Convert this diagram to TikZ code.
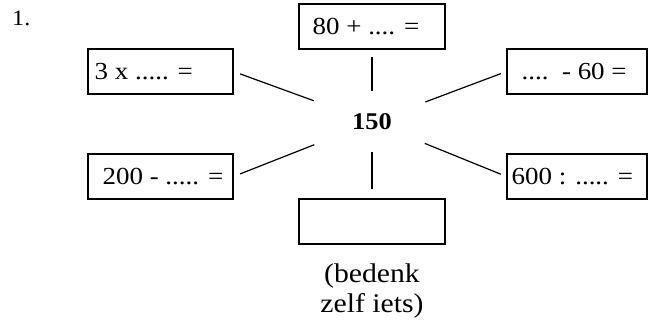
\documentclass[tikz,border=0pt]{standalone}
\usepackage{fontspec}
\setmainfont{Liberation Serif}[FakeStretch=1.1]
\begin{document}
\begin{tikzpicture}[x=1pt,y=-1pt,
  box/.style={draw,line width=1.1pt,minimum height=45pt,inner sep=0pt},
  sum/.style={anchor=west,inner sep=0pt,font=\fontsize{24.5}{28}\selectfont},
  spoke/.style={line width=1.2pt}]
\useasboundingbox (0,0) rectangle (648,320);

% exercise number
\node[anchor=base west,inner sep=0pt,font=\fontsize{22}{26}\selectfont] (nr) at (12,26) {1.};

% central number
\node[inner sep=0pt,font=\fontsize{24}{28}\selectfont\bfseries] (n150) at (372,122) {150};

% boxes around the centre
\node[box,minimum width=146pt] (b80) at (372,26.5) {};
\node[box,minimum width=145pt] (b3x) at (160.5,71.5) {};
\node[box,minimum width=140pt] (bm60) at (577,71.5) {};
\node[box,minimum width=145pt] (b200) at (160.5,176.5) {};
\node[box,minimum width=140pt] (b600) at (577,176.5) {};
\node[box,minimum width=146pt] (bfree) at (372,221.5) {};

% box texts
\node[sum] (t80) at ([xshift=14pt]b80.west) {80 + .... =};
\node[sum] (t3x) at ([xshift=7pt]b3x.west) {3 x ..... =};
\node[sum] (tm60) at ([xshift=15pt]bm60.west) {....\ \ - 60 =};
\node[sum] (t200) at ([xshift=15pt]b200.west) {200 - ..... =};
\node[sum] (t600) at ([xshift=5pt]b600.west) {600 : ..... =};

% hint under the empty box
\node[anchor=north,inner sep=0pt,align=center,
      font=\fontsize{27}{30}\selectfont] (hint) at (372,264) {(bedenk\\zelf iets)};

% spokes
\draw[spoke,shorten <=7pt,shorten >=31pt] (b80.south) -- (n150.center);
\draw[spoke,shorten <=9pt,shorten >=30pt] (bfree.north) -- (n150.center);
\draw[spoke,shorten <=7pt,shorten >=62pt] (b3x.east) -- (n150.center);
\draw[spoke,shorten <=7pt,shorten >=62pt] (b200.east) -- (n150.center);
\draw[spoke,shorten <=6pt,shorten >=57pt] (bm60.west) -- (n150.center);
\draw[spoke,shorten <=6pt,shorten >=57pt] (b600.west) -- (n150.center);
\end{tikzpicture}
\end{document}
